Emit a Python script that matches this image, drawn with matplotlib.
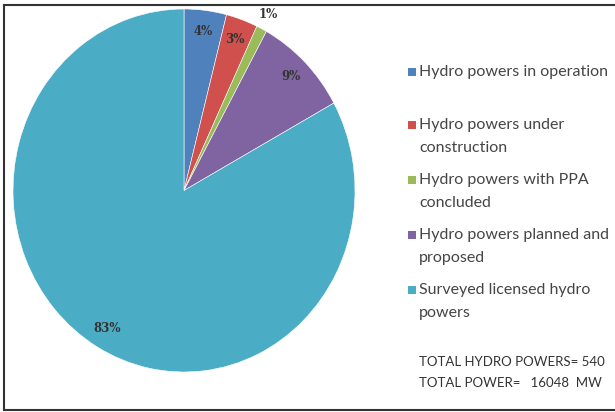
import numpy as np
import matplotlib.pyplot as plt
from matplotlib.patches import Rectangle

# share of hydro powers by status (%)
categories = ['Hydro powers in operation',
              'Hydro powers under\nconstruction',
              'Hydro powers with PPA\nconcluded',
              'Hydro powers planned and\nproposed',
              'Surveyed licensed hydro\npowers']
shares = [4, 3, 1, 9, 83]
colors = ['#4F81BD', '#D0504D', '#9BBB59', '#8064A2', '#4BACC6']
total_lines = ['TOTAL HYDRO POWERS= 540', 'TOTAL POWER=   16048  MW']

W, H = 615, 412
fig = plt.figure(figsize=(W / 100, H / 100), dpi=100)

# pie is a bit stretched vertically in the original
ax = fig.add_axes([13 / W, 40 / H, 342 / W, 363 / H])
wedges, _ = ax.pie(shares, colors=colors, startangle=90, counterclock=False,
                   radius=1.0, wedgeprops=dict(edgecolor='white', linewidth=0.4))
ax.set_aspect('auto')
ax.set_xlim(-1, 1)
ax.set_ylim(-1, 1)

for w, s in zip(wedges, shares):
    ang = np.deg2rad((w.theta1 + w.theta2) / 2)
    r = 1.09 if s < 2 else 0.885
    ax.text(r * np.cos(ang), r * np.sin(ang), f'{s}%', ha='center', va='center',
            fontsize=8.5, color='#333333', family='DejaVu Serif', fontweight='bold')

# legend drawn by hand to keep the excel-like spacing
leg_y = [72, 125, 180, 235, 290]
for y, lab, c in zip(leg_y, categories, colors):
    fig.patches.append(Rectangle((408 / W, 1 - (y + 4) / H), 8 / W, 8 / H,
                                 transform=fig.transFigure, facecolor=c,
                                 edgecolor='none'))
    for j, line in enumerate(lab.split('\n')):
        fig.text(419 / W, 1 - (y + 23 * j) / H, line, ha='left', va='center',
                 fontsize=11.5, color='#454545', family='Lato')

for i, t in enumerate(total_lines):
    fig.text(419 / W, 1 - (362 + 21 * i) / H, t, ha='left', va='center',
             fontsize=9.5, color='#333333', family='Lato')

# frame around the picture (right edge is cut off)
fig.add_artist(plt.Line2D([4 / W, 4 / W], [1 - 5 / H, 1 - 410 / H],
                          transform=fig.transFigure, color='#333333', lw=1.5))
fig.add_artist(plt.Line2D([4 / W, 1], [1 - 5 / H, 1 - 5 / H],
                          transform=fig.transFigure, color='#333333', lw=1.5))
fig.add_artist(plt.Line2D([4 / W, 1], [1 - 410 / H, 1 - 410 / H],
                          transform=fig.transFigure, color='#333333', lw=1.5))

fig.savefig('out.png', dpi=100)
